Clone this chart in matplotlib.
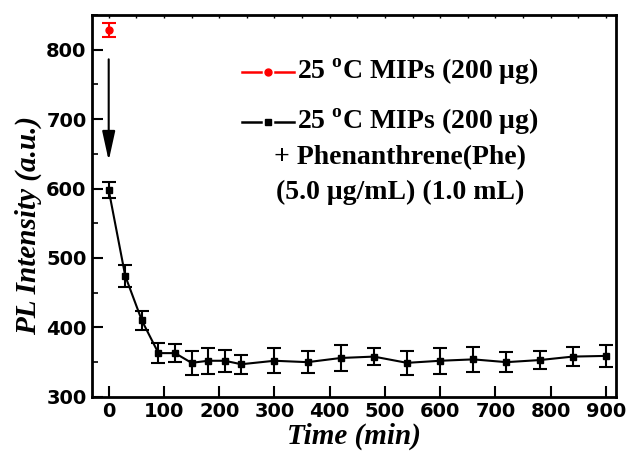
import numpy as np
import matplotlib.pyplot as plt
from matplotlib.ticker import MultipleLocator

# ------------------------------------------------------------
# Data
# ------------------------------------------------------------
time_min = [0, 30, 60, 90, 120, 150, 180, 210, 240, 300, 360,
            420, 480, 540, 600, 660, 720, 780, 840, 900]
pl_phe = [598, 474, 410, 363, 363, 349, 352, 352, 347, 352, 350,
          356, 358, 349, 352, 354, 350, 353, 358, 359]
pl_phe_err = [12, 16, 13, 14, 13, 17, 19, 16, 14, 18, 16,
              19, 12, 17, 19, 18, 14, 13, 14, 16]

time_mip = [0]
pl_mip = [828]
pl_mip_err = [10]

label_mip = "25 $^{\\mathbf{o}}$C MIPs (200 \u03bcg)"
label_phe_lines = ["25 $^{\\mathbf{o}}$C MIPs (200 \u03bcg)",
                   "+ Phenanthrene(Phe)",
                   "(5.0 \u03bcg/mL) (1.0 mL)"]

plt.rcParams["mathtext.fontset"] = "custom"
plt.rcParams["mathtext.bf"] = "Liberation Serif:bold"
plt.rcParams["mathtext.rm"] = "Liberation Serif:bold"

fig = plt.figure(figsize=(6.31, 4.51), dpi=100)
ax = fig.add_axes([0.146, 0.12, 0.83, 0.847])

ax.errorbar(time_mip, pl_mip, yerr=pl_mip_err, color="red", marker="o",
            ms=5, lw=1.5, capsize=5, capthick=1.5, elinewidth=1.5)
ax.errorbar(time_min, pl_phe, yerr=pl_phe_err, color="black", marker="s",
            ms=5, lw=1.5, capsize=5, capthick=1.5, elinewidth=1.5)

# arrow from red point down to first black point
ax.annotate("", xy=(0, 640), xytext=(0, 786),
            arrowprops=dict(arrowstyle="-|>,head_length=1.0,head_width=0.22",
                            color="black", lw=1.5,
                            mutation_scale=18, shrinkA=0, shrinkB=0))

ax.set_xlim(-30, 918)
ax.set_ylim(300, 850)
ax.xaxis.set_major_locator(MultipleLocator(100))
ax.yaxis.set_major_locator(MultipleLocator(100))
ax.yaxis.set_minor_locator(MultipleLocator(50))

ax.tick_params(axis="both", which="major", direction="in", length=8, width=1.5,
               labelsize=14, top=False, right=False, pad=4)
ax.tick_params(axis="y", which="minor", direction="in", length=4, width=1.2)
for lab in ax.get_xticklabels() + ax.get_yticklabels():
    lab.set_fontweight("bold")
for s in ax.spines.values():
    s.set_linewidth(2)

secx = ax.secondary_xaxis("top")
secx.xaxis.set_major_locator(MultipleLocator(50))
secx.tick_params(direction="in", length=2, width=1, labeltop=False)

ax.set_xlabel("Time (min)", family="Liberation Serif", weight="bold",
              style="italic", fontsize=21, labelpad=1)
ax.set_ylabel("PL Intensity (a.u.)", family="Liberation Serif", weight="bold",
              style="italic", fontsize=21)
ax.yaxis.set_label_coords(-0.095, 0.45)

# hand-placed legend
tkw = dict(family="Liberation Serif", weight="bold", fontsize=20,
           transform=ax.transAxes, va="center")
y1, y2 = 0.851, 0.72
ax.plot([0.286, 0.322], [y1, y1], color="red", lw=1.8, transform=ax.transAxes)
ax.plot([0.350, 0.386], [y1, y1], color="red", lw=1.8, transform=ax.transAxes)
ax.plot([0.336], [y1], color="red", marker="o", ms=5, transform=ax.transAxes)
ax.text(0.392, y1, label_mip, **tkw)

ax.plot([0.286, 0.322], [y2, y2], color="black", lw=1.8, transform=ax.transAxes)
ax.plot([0.350, 0.386], [y2, y2], color="black", lw=1.8, transform=ax.transAxes)
ax.plot([0.336], [y2], color="black", marker="s", ms=4.5, transform=ax.transAxes)
ax.text(0.392, y2, label_phe_lines[0], **tkw)
ax.text(0.588, 0.626, label_phe_lines[1], ha="center", **tkw)
ax.text(0.588, 0.534, label_phe_lines[2], ha="center", **tkw)

fig.savefig("out.png", dpi=100)
